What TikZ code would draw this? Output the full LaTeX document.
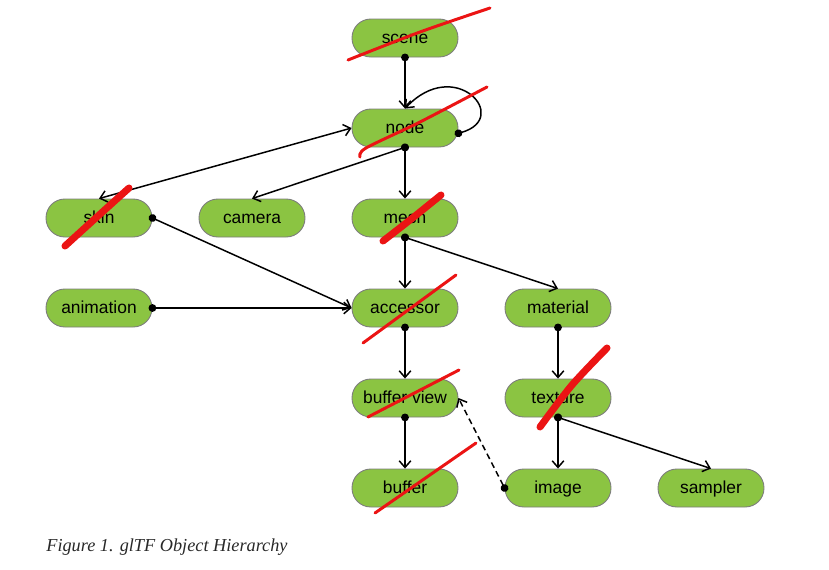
\documentclass[tikz,border=0pt]{standalone}
\usepackage{fontspec}
\setmainfont{Liberation Sans}
\newfontfamily\capfont{Liberation Serif}
\usetikzlibrary{arrows.meta}
\definecolor{objgreen}{RGB}{139,196,66}
\definecolor{objline}{RGB}{125,125,125}
\definecolor{strike}{RGB}{235,20,20}
\definecolor{captext}{RGB}{40,40,40}
\tikzset{
  obj/.style={draw=objline,line width=0.5pt,fill=objgreen,rounded corners=0.375cm,
    minimum width=2.12cm,minimum height=0.76cm,inner sep=0pt,
    text height=0.74em,text depth=0.08em,
    font=\fontsize{9.9}{12}\selectfont},
  link/.style={line width=0.85pt,shorten <=-2.2pt,
    {Circle[length=4.4pt]}-{Straight Barb[length=3.8pt,width=6.6pt,line width=0.85pt]}},
  both/.style={line width=0.85pt,
    {Straight Barb[length=3.8pt,width=6.6pt,line width=0.85pt]}-{Straight Barb[length=3.8pt,width=6.6pt,line width=0.85pt]}},
  thinstrike/.style={draw=strike,line width=1.7pt,line cap=round},
  thickstrike/.style={draw=strike,line width=4pt,line cap=round}
}
\begin{document}
\begin{tikzpicture}[x=0.02cm,y=-0.02cm]
  \useasboundingbox (0,0) rectangle (829,569);
  \node[obj] (scene) at (405,38) {scene};
  \node[obj] (nodeobj) at (405,128) {node};
  \node[obj] (skin) at (99,218) {skin};
  \node[obj] (camera) at (252,218) {camera};
  \node[obj] (mesh) at (405,218) {mesh};
  \node[obj] (anim) at (99,308) {animation};
  \node[obj] (accessor) at (405,308) {accessor};
  \node[obj] (material) at (558,308) {material};
  \node[obj] (bview) at (405,398) {buffer view};
  \node[obj] (texture) at (558,398) {texture};
  \node[obj] (buffer) at (405,488) {buffer};
  \node[obj] (image) at (558,488) {image};
  \node[obj] (sampler) at (711,488) {sampler};
  \foreach \from/\to in {scene.south/nodeobj.north, nodeobj.south/camera.north,
  nodeobj.south/mesh.north, mesh.south/accessor.north, mesh.south/material.north,
  skin.east/accessor.west, anim.east/accessor.west, accessor.south/bview.north,
  material.south/texture.north, bview.south/buffer.north,
  texture.south/image.north, texture.south/sampler.north}
    \draw[link] (\from) -- (\to);
  \draw[link] ([yshift=-3pt]nodeobj.east) .. controls (512,118) and (455,55) .. (nodeobj.north);
  \draw[both] (skin.north) -- (nodeobj.west);
  \draw[link,dash pattern=on 3.4pt off 2.2pt] (image.west) -- (bview.east);

  % red strike marks
  \draw[thinstrike] plot[smooth] coordinates {(348,60) (420,32) (490,8)};
  \draw[thinstrike] plot[smooth] coordinates {(360,157) (366,148) (420,122) (487,87)};
  \draw[thickstrike] plot[smooth] coordinates {(65,246) (98,216) (129,188)};
  \draw[thickstrike] plot[smooth] coordinates {(383,241) (410,220) (441,195)};
  \draw[thinstrike] (363,343) -- (456,275);
  \draw[thinstrike] (368,417) -- (459,370);
  \draw[thickstrike] plot[smooth] coordinates {(540,427) (572,385) (607,348)};
  \draw[thinstrike] (375,513) -- (476,443);

  \node[anchor=base west,inner sep=0pt,text=captext,
    font=\capfont\itshape\fontsize{10.4}{12}\selectfont] (caption) at (46,551)
    {Figure 1. glTF Object Hierarchy};
\end{tikzpicture}
\end{document}
